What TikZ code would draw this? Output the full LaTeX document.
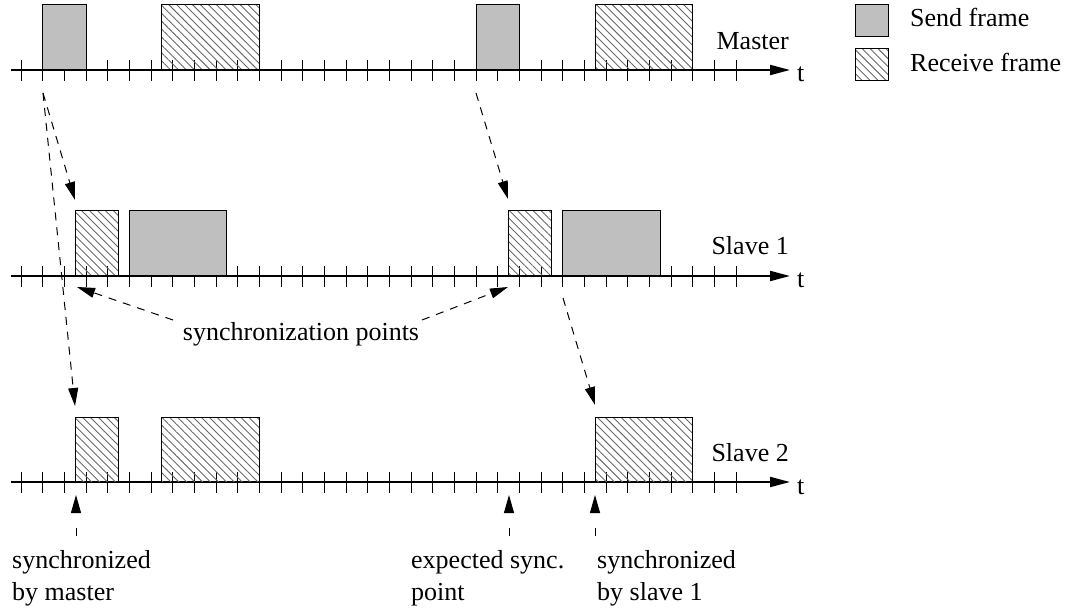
\documentclass[tikz,border=0pt]{standalone}
\usepackage{fontspec}
\setmainfont{Liberation Serif}
\usetikzlibrary{arrows.meta,patterns.meta}

\definecolor{framegray}{RGB}{191,191,191}
\definecolor{hatchgray}{RGB}{105,105,105}

% one frame on a time line: style, name, axis y, start tick, end tick
\newcommand\timeslot[5]{%
  \node[#1, minimum width={21.67pt*(#5-#4)}] (#2) at ({21+21.67*#4}, #3) {};}

\begin{document}
\begin{tikzpicture}[x=1pt,y=-1pt,
  lbl/.style={font=\fontsize{26}{32}\selectfont, inner sep=0pt},
  timeaxis/.style={line width=2pt, -{Triangle[length=20pt,width=10pt]}},
  tickmark/.style={line width=1pt},
  framebox/.style={draw, line width=1pt, inner sep=0pt, outer sep=0pt,
    anchor=south west, minimum height=65pt},
  sendf/.style={framebox, fill=framegray},
  recvf/.style={framebox,
    pattern={Lines[angle=-45,distance=5.6pt,line width=0.9pt]},
    pattern color=hatchgray},
  flow/.style={line width=1pt, dash pattern=on 8pt off 7pt,
    -{Triangle[length=18pt,width=10pt]}},
  pointer/.style={flow, dash pattern=on 8pt off 20pt},
]
\useasboundingbox (0,0) rectangle (1066,612);

% time lines with tick marks
\foreach \name/\ay in {m/70, sa/276, sb/482}{
  \coordinate (\name-from) at (11,\ay);
  \coordinate (\name-to) at (790,\ay);
  \foreach \i in {0,...,33}
    \draw[tickmark] ({21+21.67*\i},\ay-10) -- ({21+21.67*\i},\ay+11);
}
\draw[timeaxis] (m-from) -- (m-to);
\draw[timeaxis] (sa-from) -- (sa-to);
\draw[timeaxis] (sb-from) -- (sb-to);

% master frames
\timeslot{sendf}{m1}{70}{1}{3}
\timeslot{recvf}{m2}{70}{6.5}{11}
\timeslot{sendf}{m3}{70}{21}{23}
\timeslot{recvf}{m4}{70}{26.5}{31}

% slave 1 frames
\timeslot{recvf}{a1}{276}{2.5}{4.5}
\timeslot{sendf}{a2}{276}{5}{9.5}
\timeslot{recvf}{a3}{276}{22.5}{24.5}
\timeslot{sendf}{a4}{276}{25}{29.5}

% slave 2 frames
\timeslot{recvf}{b1}{482}{2.5}{4.5}
\timeslot{recvf}{b2}{482}{6.5}{11}
\timeslot{recvf}{b3}{482}{26.5}{31}

% line names and time labels
\node[lbl, anchor=base east] (lm) at (789,50) {Master};
\node[lbl, anchor=base east] (la) at (789,255) {Slave 1};
\node[lbl, anchor=base east] (lb) at (789,461) {Slave 2};
\node[lbl, anchor=base west] (tm) at (797,82) {t};
\node[lbl, anchor=base west] (ta) at (797,288) {t};
\node[lbl, anchor=base west] (tb) at (797,494) {t};

% legend
\node[sendf, anchor=north west, minimum width=33pt, minimum height=32pt] (legsend) at (855,5) {};
\node[recvf, anchor=north west, minimum width=33pt, minimum height=32pt] (legrecv) at (855,49) {};
\node[lbl, anchor=base west] (legsendtxt) at (910,26.5) {Send frame};
\node[lbl, anchor=base west] (legrecvtxt) at (910,72) {Receive frame};

% frame propagation
\coordinate (ms1) at (43,93);
\coordinate (ms2) at (476,93);
\coordinate (sa2) at (563,298);
\coordinate (ta1) at (75,200);
\coordinate (ta2) at (508,199);
\coordinate (tb1) at (75,406);
\coordinate (tb3) at (595,405);
\draw[flow] (ms1) -- (ta1);
\draw[flow] (ms1) -- (tb1);
\draw[flow] (ms2) -- (ta2);
\draw[flow] (sa2) -- (tb3);

% synchronization points
\node[lbl, anchor=base] (syncpts) at (301,341) {synchronization points};
\coordinate (sp1from) at (173,320);
\coordinate (sp2from) at (422,320);
\coordinate (sp1) at (77,287);
\coordinate (sp2) at (508,287);
\draw[flow] (sp1from) -- (sp1);
\draw[flow] (sp2from) -- (sp2);

% remarks below slave 2
\node[lbl, anchor=north west, align=left] (rm1) at (12,550) {synchronized\\by master};
\node[lbl, anchor=north west, align=left] (rm2) at (411,550) {expected sync.\\point};
\node[lbl, anchor=north west, align=left] (rm3) at (597,550) {synchronized\\by slave 1};
\coordinate (rm1a) at (76,536);
\coordinate (rm2a) at (509,536);
\coordinate (rm3a) at (595,536);
\coordinate (rm1t) at (76,495);
\coordinate (rm2t) at (509,495);
\coordinate (rm3t) at (595,495);
\draw[pointer] (rm1a) -- (rm1t);
\draw[pointer] (rm2a) -- (rm2t);
\draw[pointer] (rm3a) -- (rm3t);
\end{tikzpicture}
\end{document}
